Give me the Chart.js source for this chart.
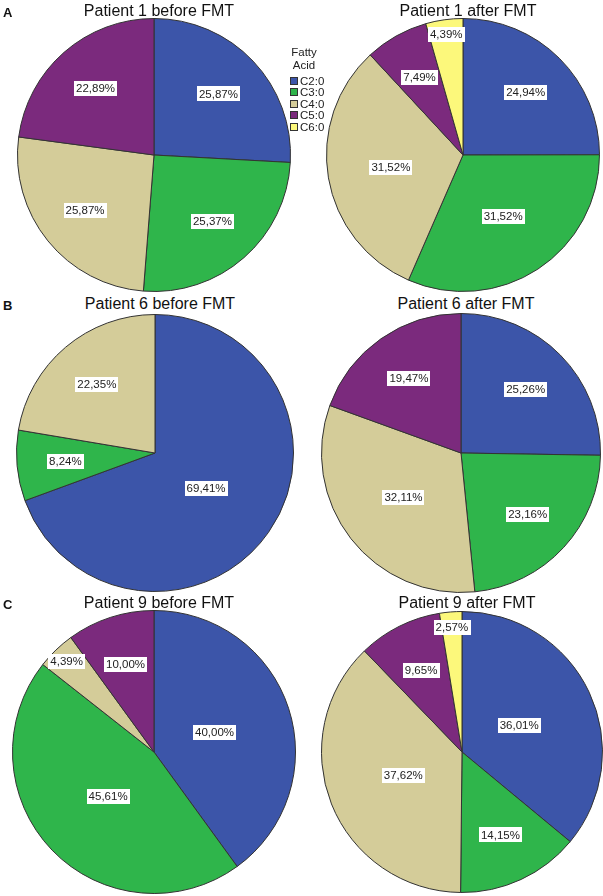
<!DOCTYPE html>
<html>
<head>
<meta charset="utf-8">
<script src="https://cdn.jsdelivr.net/npm/chart.js@4"></script>
<style>
  body { margin: 0; background: #fff; font-family: "Liberation Sans", Arial, sans-serif; }
  #page { position: relative; width: 603px; height: 896px; overflow: hidden; }
  .pie { position: absolute; }
  .ttl { position: absolute; font-size: 16px; color: #111; white-space: nowrap; transform: translate(-50%, -50%); }
  .tag { position: absolute; font-size: 13px; font-weight: bold; color: #111; transform: translateY(-50%); }
  #legend { position: absolute; left: 290px; top: 46px; font-size: 11.5px; color: #222; }
  #legend .head { text-align: center; line-height: 13px; margin-left: -4px; width: 36px; }
  #legend .row { height: 11.4px; line-height: 11.4px; white-space: nowrap; }
  #legend .sw { display: inline-block; width: 6px; height: 6px; border: 1px solid #333; margin-right: 2px; }
</style>
</head>
<body>
<div id="page"></div>
<script>
// categories and colours
const fattyAcids = ['C2:0', 'C3:0', 'C4:0', 'C5:0', 'C6:0'];
const acidColors = ['#3c55a9', '#2fb54b', '#d4cc99', '#7b2a7d', '#fcf87b'];

// percentages, same order as fattyAcids (0 = not present)
const p1Before = [25.87, 25.37, 25.87, 22.89, 0];
const p1After  = [24.94, 31.52, 31.52, 7.49, 4.39];
const p6Before = [69.41, 8.24, 22.35, 0, 0];
const p6After  = [25.26, 23.16, 32.11, 19.47, 0];
const p9Before = [40.00, 45.61, 4.39, 10.00, 0];
const p9After  = [36.01, 14.15, 37.62, 9.65, 2.57];

const panels = [
  { title: 'Patient 1 before FMT', data: p1Before, cx: 154, cy: 155, r: 136, tag: 'A', ty: 11 },
  { title: 'Patient 1 after FMT',  data: p1After,  cx: 463, cy: 155, r: 136, ty: 11 },
  { title: 'Patient 6 before FMT', data: p6Before, cx: 155, cy: 453, r: 138, tag: 'B', ty: 304 },
  { title: 'Patient 6 after FMT',  data: p6After,  cx: 461, cy: 453, r: 139, ty: 304 },
  { title: 'Patient 9 before FMT', data: p9Before, cx: 154, cy: 752, r: 141, tag: 'C', ty: 603 },
  { title: 'Patient 9 after FMT',  data: p9After,  cx: 462, cy: 752, r: 140, ty: 603 }
];

// how far out along the slice the label sits (fraction of radius)
function labelReach(pct) {
  if (pct < 6) return 0.89;
  if (pct < 27) return 0.65;
  return Math.max(0.45, 0.65 - (pct - 27) * 0.025);
}

// white label boxes, like SPSS puts them
const pctLabels = {
  id: 'pctLabels',
  afterDatasetsDraw(chart) {
    const ctx = chart.ctx;
    const meta = chart.getDatasetMeta(0);
    const vals = chart.data.datasets[0].data;
    const total = vals.reduce((a, b) => a + b, 0);
    ctx.save();
    ctx.font = '11.5px "Liberation Sans", Arial, sans-serif';
    ctx.textAlign = 'center';
    ctx.textBaseline = 'middle';
    meta.data.forEach((arc, i) => {
      const v = vals[i];
      if (!v) return;
      const f = labelReach(v / total * 100);
      const mid = (arc.startAngle + arc.endAngle) / 2;
      const x = arc.x + Math.cos(mid) * arc.outerRadius * f;
      const y = arc.y + Math.sin(mid) * arc.outerRadius * f;
      const txt = v.toFixed(2).replace('.', ',') + '%';
      const w = ctx.measureText(txt).width + 4;
      ctx.fillStyle = '#fff';
      ctx.fillRect(Math.round(x - w / 2), Math.round(y - 7.5), Math.round(w), 15);
      ctx.fillStyle = '#222';
      ctx.fillText(txt, x, y + 0.5);
    });
    ctx.restore();
  }
};

const page = document.getElementById('page');

panels.forEach(p => {
  const size = 2 * p.r + 2;
  const cv = document.createElement('canvas');
  cv.className = 'pie';
  cv.width = size;
  cv.height = size;
  cv.style.left = (p.cx - size / 2) + 'px';
  cv.style.top = (p.cy - size / 2) + 'px';
  page.appendChild(cv);

  const t = document.createElement('div');
  t.className = 'ttl';
  t.textContent = p.title;
  t.style.left = (p.cx + 5) + 'px';
  t.style.top = p.ty + 'px';
  page.appendChild(t);

  if (p.tag) {
    const g = document.createElement('div');
    g.className = 'tag';
    g.textContent = p.tag;
    g.style.left = '3px';
    g.style.top = (p.ty + 1) + 'px';
    page.appendChild(g);
  }

  new Chart(cv.getContext('2d'), {
    type: 'pie',
    data: {
      labels: fattyAcids,
      datasets: [{
        data: p.data,
        backgroundColor: acidColors,
        borderColor: '#333',
        borderWidth: 1
      }]
    },
    options: {
      responsive: false,
      animation: false,
      layout: { padding: 0 },
      plugins: { legend: { display: false }, tooltip: { enabled: false } }
    },
    plugins: [pctLabels]
  });
});

// legend between the two top pies
const lg = document.createElement('div');
lg.id = 'legend';
lg.innerHTML = '<div class="head">Fatty<br>Acid</div><div style="height:4px"></div>';
fattyAcids.forEach((name, i) => {
  const row = document.createElement('div');
  row.className = 'row';
  row.innerHTML = '<span class="sw" style="background:' + acidColors[i] + '"></span>' + name;
  lg.appendChild(row);
});
page.appendChild(lg);
</script>
</body>
</html>
